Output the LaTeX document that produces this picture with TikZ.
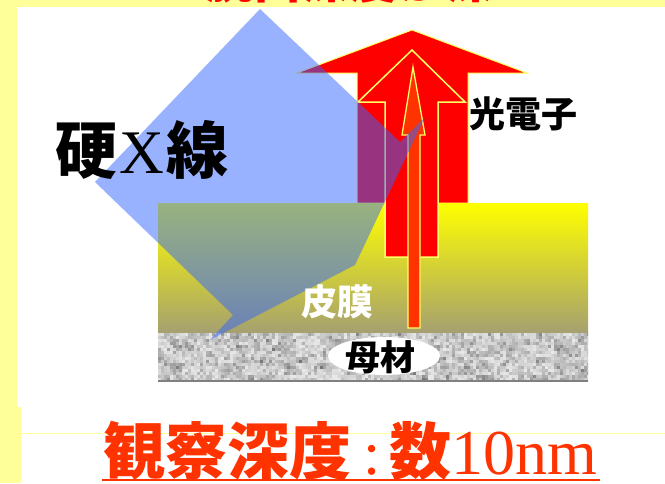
\documentclass[tikz,border=0pt]{standalone}
\usepackage{fontspec}
\newfontfamily\cjk{Noto Sans CJK JP}
\newfontfamily\tms{Liberation Serif}
\usetikzlibrary{shapes.geometric}

\definecolor{paleyellow}{RGB}{255,255,153}
\definecolor{beam}{RGB}{51,102,255}
\definecolor{hot}{RGB}{255,51,0}
\definecolor{rim}{RGB}{255,255,102}
\definecolor{filmbottom}{RGB}{165,160,112}

\begin{document}
\begin{tikzpicture}[x=1pt,y=-1pt,
  txt/.style={inner sep=0pt, anchor=base west},
  arrowbody/.style={fill=red, draw=rim, line join=miter},
]
\useasboundingbox (0,0) rectangle (665,483);

% slide frame
\fill[paleyellow] (0,0) rectangle (665,483);
\fill[white] (17,7) rectangle (665,407);
\fill[white] (21,407) rectangle (665,483);
\draw[paleyellow, line width=0.8pt] (21,433) -- (665,433);

% heading line, cut off by the top edge
\begin{scope}
  \clip (0,0) rectangle (665,7);
  \node[txt, text=red, font=\cjk\bfseries\fontsize{48}{48}\selectfont] (heading) at (205,-2) {脱出深度が深い};
\end{scope}

% outer photoelectron arrow
\filldraw[arrowbody, line width=1pt] (412,30) -- (527,73) -- (468,73) -- (468,203)
  -- (357,203) -- (357,73) -- (297,73) -- cycle;

% surface film
\shade[top color=yellow, bottom color=filmbottom] (158,203) rectangle (588,333);

% substrate texture: coarse grain with a finer grain over it
\begin{scope}
  \clip (158,333) rectangle (588,381);
  \pgfmathsetseed{7}
  \foreach \i in {0,...,71}{
    \foreach \j in {0,...,7}{
      \pgfmathsetmacro\g{int(90-55*rnd*rnd)}
      \fill[white!\g!black] (158+6*\i,333+6*\j) rectangle ++(6.2,6.2);
    }
  }
  \foreach \i in {0,...,143}{
    \foreach \j in {0,...,15}{
      \pgfmathsetmacro\g{int(95-60*rnd*rnd)}
      \fill[white!\g!black, opacity=0.5] (158+3*\i,333+3*\j) rectangle ++(3,3);
    }
  }
\end{scope}
\draw[gray, line width=1.5pt] (158,381) -- (588,381);

% middle and inner arrows
\filldraw[arrowbody, line width=1.5pt] (412,50) -- (465,102) -- (438,102) -- (438,257)
  -- (385,257) -- (385,102) -- (358,102) -- cycle;
\filldraw[arrowbody, fill=hot, line width=1.3pt] (413,67) -- (425,135) -- (420,135) -- (420,328)
  -- (408,328) -- (408,135) -- (402,135) -- cycle;

% hard X-ray beam
\fill[beam, opacity=0.5] (260,9) -- (400,142) -- (425,117) -- (355,265) -- (210,340)
  -- (233,315) -- (95,182) -- cycle;

% labels
\node[ellipse, fill=white, minimum width=112pt, minimum height=38pt, inner sep=0pt] (patch) at (384,356) {};
\node[txt, font=\cjk\bfseries\fontsize{35}{35}\selectfont] (substrate) at (345,370.5) {母材};
\node[txt, text=white, font=\cjk\bfseries\fontsize{36}{36}\selectfont] (film) at (301,315.5) {皮膜};
\node[txt, font=\cjk\bfseries\fontsize{36}{36}\selectfont] (electron) at (469,127.5) {光電子};
\node[txt, font=\cjk\bfseries\fontsize{62}{62}\selectfont] (xray) at (55,173)
  {硬\kern2pt{\tms\mdseries X}\kern3pt 線};

\node[txt, text=hot, font=\cjk\bfseries\fontsize{62}{62}\selectfont] (depth) at (103,474)
  {観察深度\kern12pt\smash{\tms\mdseries :}\kern9pt 数\smash{\tms\mdseries\fontsize{64}{64}\selectfont 10nm}};
\draw[hot, line width=2.8pt] (102,480) -- (600,480);
\end{tikzpicture}
\end{document}
